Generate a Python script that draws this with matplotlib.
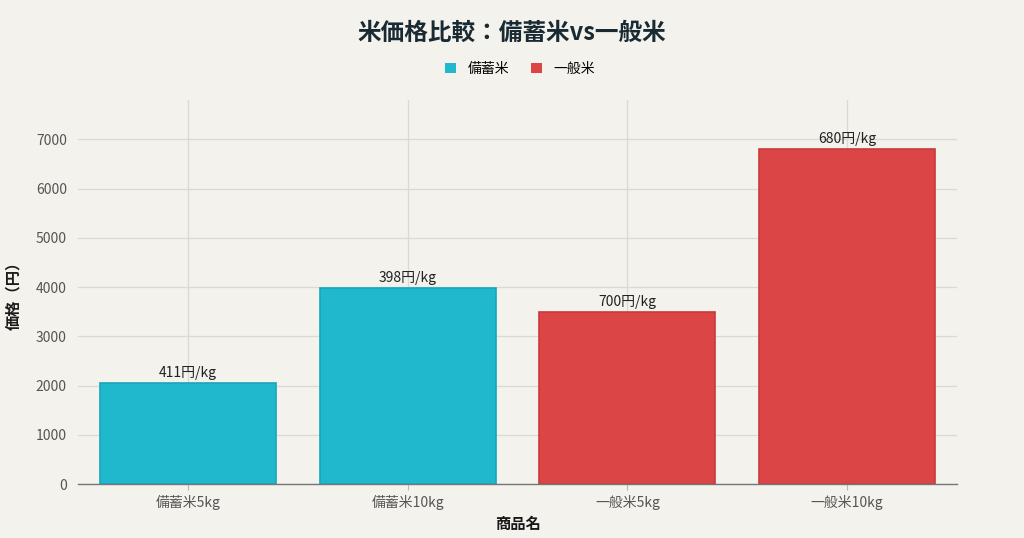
import matplotlib
matplotlib.use("Agg")
import matplotlib.pyplot as plt
from matplotlib.patches import Patch

plt.rcParams['font.family'] = ['Noto Sans CJK JP', 'DejaVu Sans']

categories = ["備蓄米5kg", "備蓄米10kg", "一般米5kg", "一般米10kg"]
prices = [2055, 3980, 3500, 6800]
labels = ["411円/kg", "398円/kg", "700円/kg", "680円/kg"]
groups = ["備蓄米", "備蓄米", "一般米", "一般米"]
group_colors = {"備蓄米": "#1FB8CD", "一般米": "#DB4545"}
edge_colors = {"備蓄米": "#19A5B8", "一般米": "#C93B3B"}
yticks = [0, 1000, 2000, 3000, 4000, 5000, 6000, 7000]

bg = "#F3F2ED"
fig = plt.figure(figsize=(10.24, 5.38), dpi=100, facecolor=bg)
ax = fig.add_axes([78/1024, 1-484/538, (957-78)/1024, (484-100)/538])
ax.set_facecolor(bg)

x = list(range(len(categories)))
bars = ax.bar(x, prices, width=0.8,
              color=[group_colors[g] for g in groups],
              edgecolor=[edge_colors[g] for g in groups], linewidth=1.2, zorder=3)
for xi, p, lab in zip(x, prices, labels):
    ax.text(xi, p + 60, lab, ha="center", va="bottom", fontsize=10, color="#222222", zorder=4)

ax.set_xlim(-0.5, 3.5)
ax.set_ylim(0, 7800)
ax.set_xticks(x)
ax.set_xticklabels(categories, fontsize=10, color="#555555")
ax.set_yticks(yticks)
ax.set_yticklabels([str(v) for v in yticks], fontsize=10, color="#555555")
ax.grid(True, color="#D9D9D6", linewidth=0.9, zorder=0)
for s in ["top", "right", "left"]:
    ax.spines[s].set_visible(False)
ax.spines["bottom"].set_color("#777777")
ax.spines["bottom"].set_linewidth(1.0)
ax.spines["bottom"].set_zorder(5)
ax.tick_params(axis="y", length=0, pad=8)
ax.tick_params(axis="x", length=4, color="#BBBBBB", pad=4)

fig.text(517.5/1024, 1-524/538, "商品名", ha="center", va="center",
         fontsize=11, fontweight="bold", color="#1a1a1a")
fig.text(13/1024, 1-292/538, "価格（円）", rotation=90, ha="center", va="center",
         fontsize=11, fontweight="bold", color="#1a1a1a")

fig.text(0.5, 1-33/538, "米価格比較：備蓄米vs一般米", ha="center", va="center",
         fontsize=17, fontweight="bold", color="#1a2a33")

handles = [Patch(facecolor=group_colors[g], edgecolor="none", label=g) for g in ["備蓄米", "一般米"]]
fig.legend(handles=handles, loc="center", bbox_to_anchor=(0.508, 1-69/538), ncol=2,
           frameon=False, fontsize=10, handlelength=0.8, handleheight=0.8,
           columnspacing=1.6, handletextpad=0.8)

fig.savefig("out.png", dpi=100, facecolor=bg)
